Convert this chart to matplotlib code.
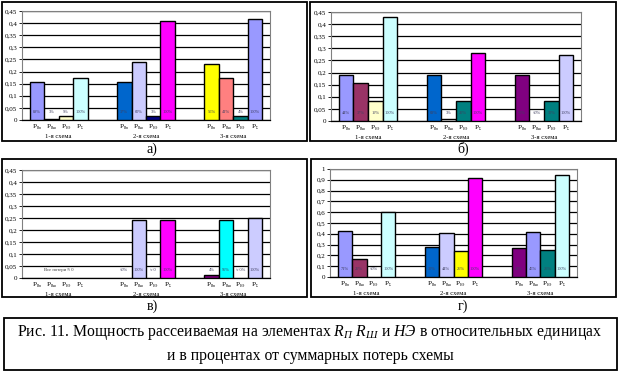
import matplotlib
matplotlib.use("Agg")
import matplotlib.pyplot as plt
from matplotlib.patches import Rectangle
from matplotlib.ticker import FuncFormatter, MultipleLocator

plt.rcParams['font.family'] = ['Liberation Serif', 'DejaVu Serif']
plt.rcParams['mathtext.fontset'] = 'custom'
plt.rcParams['mathtext.rm'] = 'Liberation Serif'
plt.rcParams['mathtext.it'] = 'Liberation Serif:italic'

groups = ["1-я схема", "2-я схема", "3-я схема"]
bar_names = ["Rп", "Rш", "НЭ", "Σ"]

# panel а)
a_values = [[0.155, 0.003, 0.016, 0.175],
            [0.155, 0.238, 0.015, 0.408],
            [0.231, 0.173, 0.016, 0.416]]
a_labels = [["88%", "3%", "9%", "100%"],
            ["37%", "60%", "3%", "100%"],
            ["55%", "41%", "4%", "100%"]]
a_colors = [["#9999FF", "#FFFFFF", "#FFFFCC", "#CCFFFF"],
            ["#0066CC", "#CCCCFF", "#000080", "#FF00FF"],
            ["#FFFF00", "#FF8080", "#008080", "#9999FF"]]

# panel б)
b_values = [[0.189, 0.156, 0.082, 0.428],
            [0.189, 0.008, 0.083, 0.281],
            [0.189, 0.0, 0.083, 0.271]]
b_labels = [["44%", "37%", "19%", "100%"],
            ["68%", "3%", "29%", "100%"],
            ["70%", "≈0%", "30%", "100%"]]
b_colors = [["#9999FF", "#993366", "#FFFFCC", "#CCFFFF"],
            ["#0066CC", "#FFFFFF", "#008080", "#FF00FF"],
            ["#800080", "#FFFFFF", "#008080", "#CCCCFF"]]

# panel в)
c_values = [[0.0, 0.0, 0.0, 0.0],
            [0.0, 0.241, 0.0, 0.241],
            [0.012, 0.241, 0.0, 0.252]]
c_labels = [["", "", "", ""],
            ["≈0%", "100%", "≈ 0", "100%"],
            ["4%", "96%", "≈ 0%", "100%"]]
c_colors = [["#FFFFFF", "#FFFFFF", "#FFFFFF", "#FFFFFF"],
            ["#FFFFFF", "#CCCCFF", "#FFFFFF", "#FF00FF"],
            ["#800080", "#00FFFF", "#FFFFFF", "#CCCCFF"]]
c_note = "Все потери ≈ 0"

# panel г)
d_values = [[0.426, 0.167, 0.0, 0.600],
            [0.280, 0.407, 0.243, 0.920],
            [0.270, 0.415, 0.250, 0.940]]
d_labels = [["71%", "29%", "≈0%", "100%"],
            ["30%", "44%", "26%", "100%"],
            ["29%", "45%", "26%", "100%"]]
d_colors = [["#9999FF", "#993366", "#FFFFFF", "#CCFFFF"],
            ["#0066CC", "#CCCCFF", "#FFFF00", "#FF00FF"],
            ["#800080", "#9999FF", "#008080", "#CCFFFF"]]

W, H = 620, 374
fig = plt.figure(figsize=(W / 100, H / 100), dpi=100)


def rect(x0, y0, x1, y1):
    return [x0 / W, 1 - y1 / H, (x1 - x0) / W, (y1 - y0) / H]


def box(x0, y0, x1, y1, lw=1.3):
    fig.patches.append(Rectangle((x0 / W, 1 - y1 / H), (x1 - x0) / W, (y1 - y0) / H,
                                 transform=fig.transFigure, fill=False,
                                 edgecolor='black', linewidth=lw))


def fmt(v, pos):
    s = ("%.2f" % v).rstrip('0').rstrip('.')
    return s.replace('.', ',')


def panel(pos, values, labels, colors, ymax, ystep, note=None):
    ax = fig.add_axes(rect(*pos))
    bw = 0.166
    offs = [-1.5 * bw, -0.5 * bw, 0.5 * bw, 1.5 * bw]
    ticks, tlabels = [], []
    for g in range(3):
        for i in range(4):
            x = g + offs[i]
            v = values[g][i]
            if v > 0:
                ax.bar(x, v, width=bw, color=colors[g][i], edgecolor='black',
                       linewidth=1.0, zorder=3)
            if labels[g][i]:
                ax.text(x, 0.07 * ymax, labels[g][i], ha='center', va='center',
                        fontsize=3.2, color='#404060', zorder=4)
            ticks.append(x)
            tlabels.append(r"$\mathrm{P}_{_{\mathrm{%s}}}$" % bar_names[i])
        ax.text(g, -0.13, groups[g], transform=ax.get_xaxis_transform(),
                ha='center', va='top', fontsize=4.8)
    if note:
        ax.text(0, 0.07 * ymax, note, ha='center', va='center', fontsize=3.4,
                color='#404040', zorder=4)
    ax.set_xlim(-0.42, 2.42)
    ax.set_ylim(0, ymax)
    ax.yaxis.set_major_locator(MultipleLocator(ystep))
    ax.yaxis.set_major_formatter(FuncFormatter(fmt))
    ax.set_xticks(ticks)
    ax.set_xticklabels(tlabels, fontsize=5.2)
    ax.tick_params(axis='x', length=0, pad=1.5)
    ax.tick_params(axis='y', length=2, width=0.6, labelsize=5, pad=1.5)
    ax.grid(axis='y', color='black', linewidth=0.9, zorder=1)
    ax.set_axisbelow(True)
    for s in ['top', 'right']:
        ax.spines[s].set_color('#808080')
        ax.spines[s].set_linewidth(0.8)
    ax.spines['left'].set_color('#808080')
    ax.spines['left'].set_linewidth(0.8)
    ax.spines['bottom'].set_color('black')
    ax.spines['bottom'].set_linewidth(0.9)
    return ax


panel((22, 11, 270, 120), a_values, a_labels, a_colors, 0.45, 0.05)
panel((331, 12, 581, 121), b_values, b_labels, b_colors, 0.45, 0.05)
panel((22, 170, 270, 278), c_values, c_labels, c_colors, 0.45, 0.05, note=c_note)
panel((330, 169, 577, 277), d_values, d_labels, d_colors, 1.0, 0.1)

box(2, 2, 307, 141)
box(310, 2, 616, 141)
box(2, 159, 307, 297)
box(311, 159, 616, 297)
box(4, 318, 617, 370)

fig.text(152 / W, 1 - 149 / H, "а)", ha='center', va='center', fontsize=10)
fig.text(463 / W, 1 - 149 / H, "б)", ha='center', va='center', fontsize=10)
fig.text(152 / W, 1 - 306 / H, "в)", ha='center', va='center', fontsize=10)
fig.text(463 / W, 1 - 306 / H, "г)", ha='center', va='center', fontsize=10)

fig.text(310 / W, 1 - 333 / H,
         r"Рис. 11. Мощность рассеиваемая на элементах $R_{П}$ $R_{Ш}$ и $НЭ$ в относительных единицах",
         ha='center', va='center', fontsize=11.3)
fig.text(310 / W, 1 - 356 / H, "и в процентах от суммарных потерь схемы",
         ha='center', va='center', fontsize=11.3)

fig.savefig("out.png", dpi=100, facecolor='white')
